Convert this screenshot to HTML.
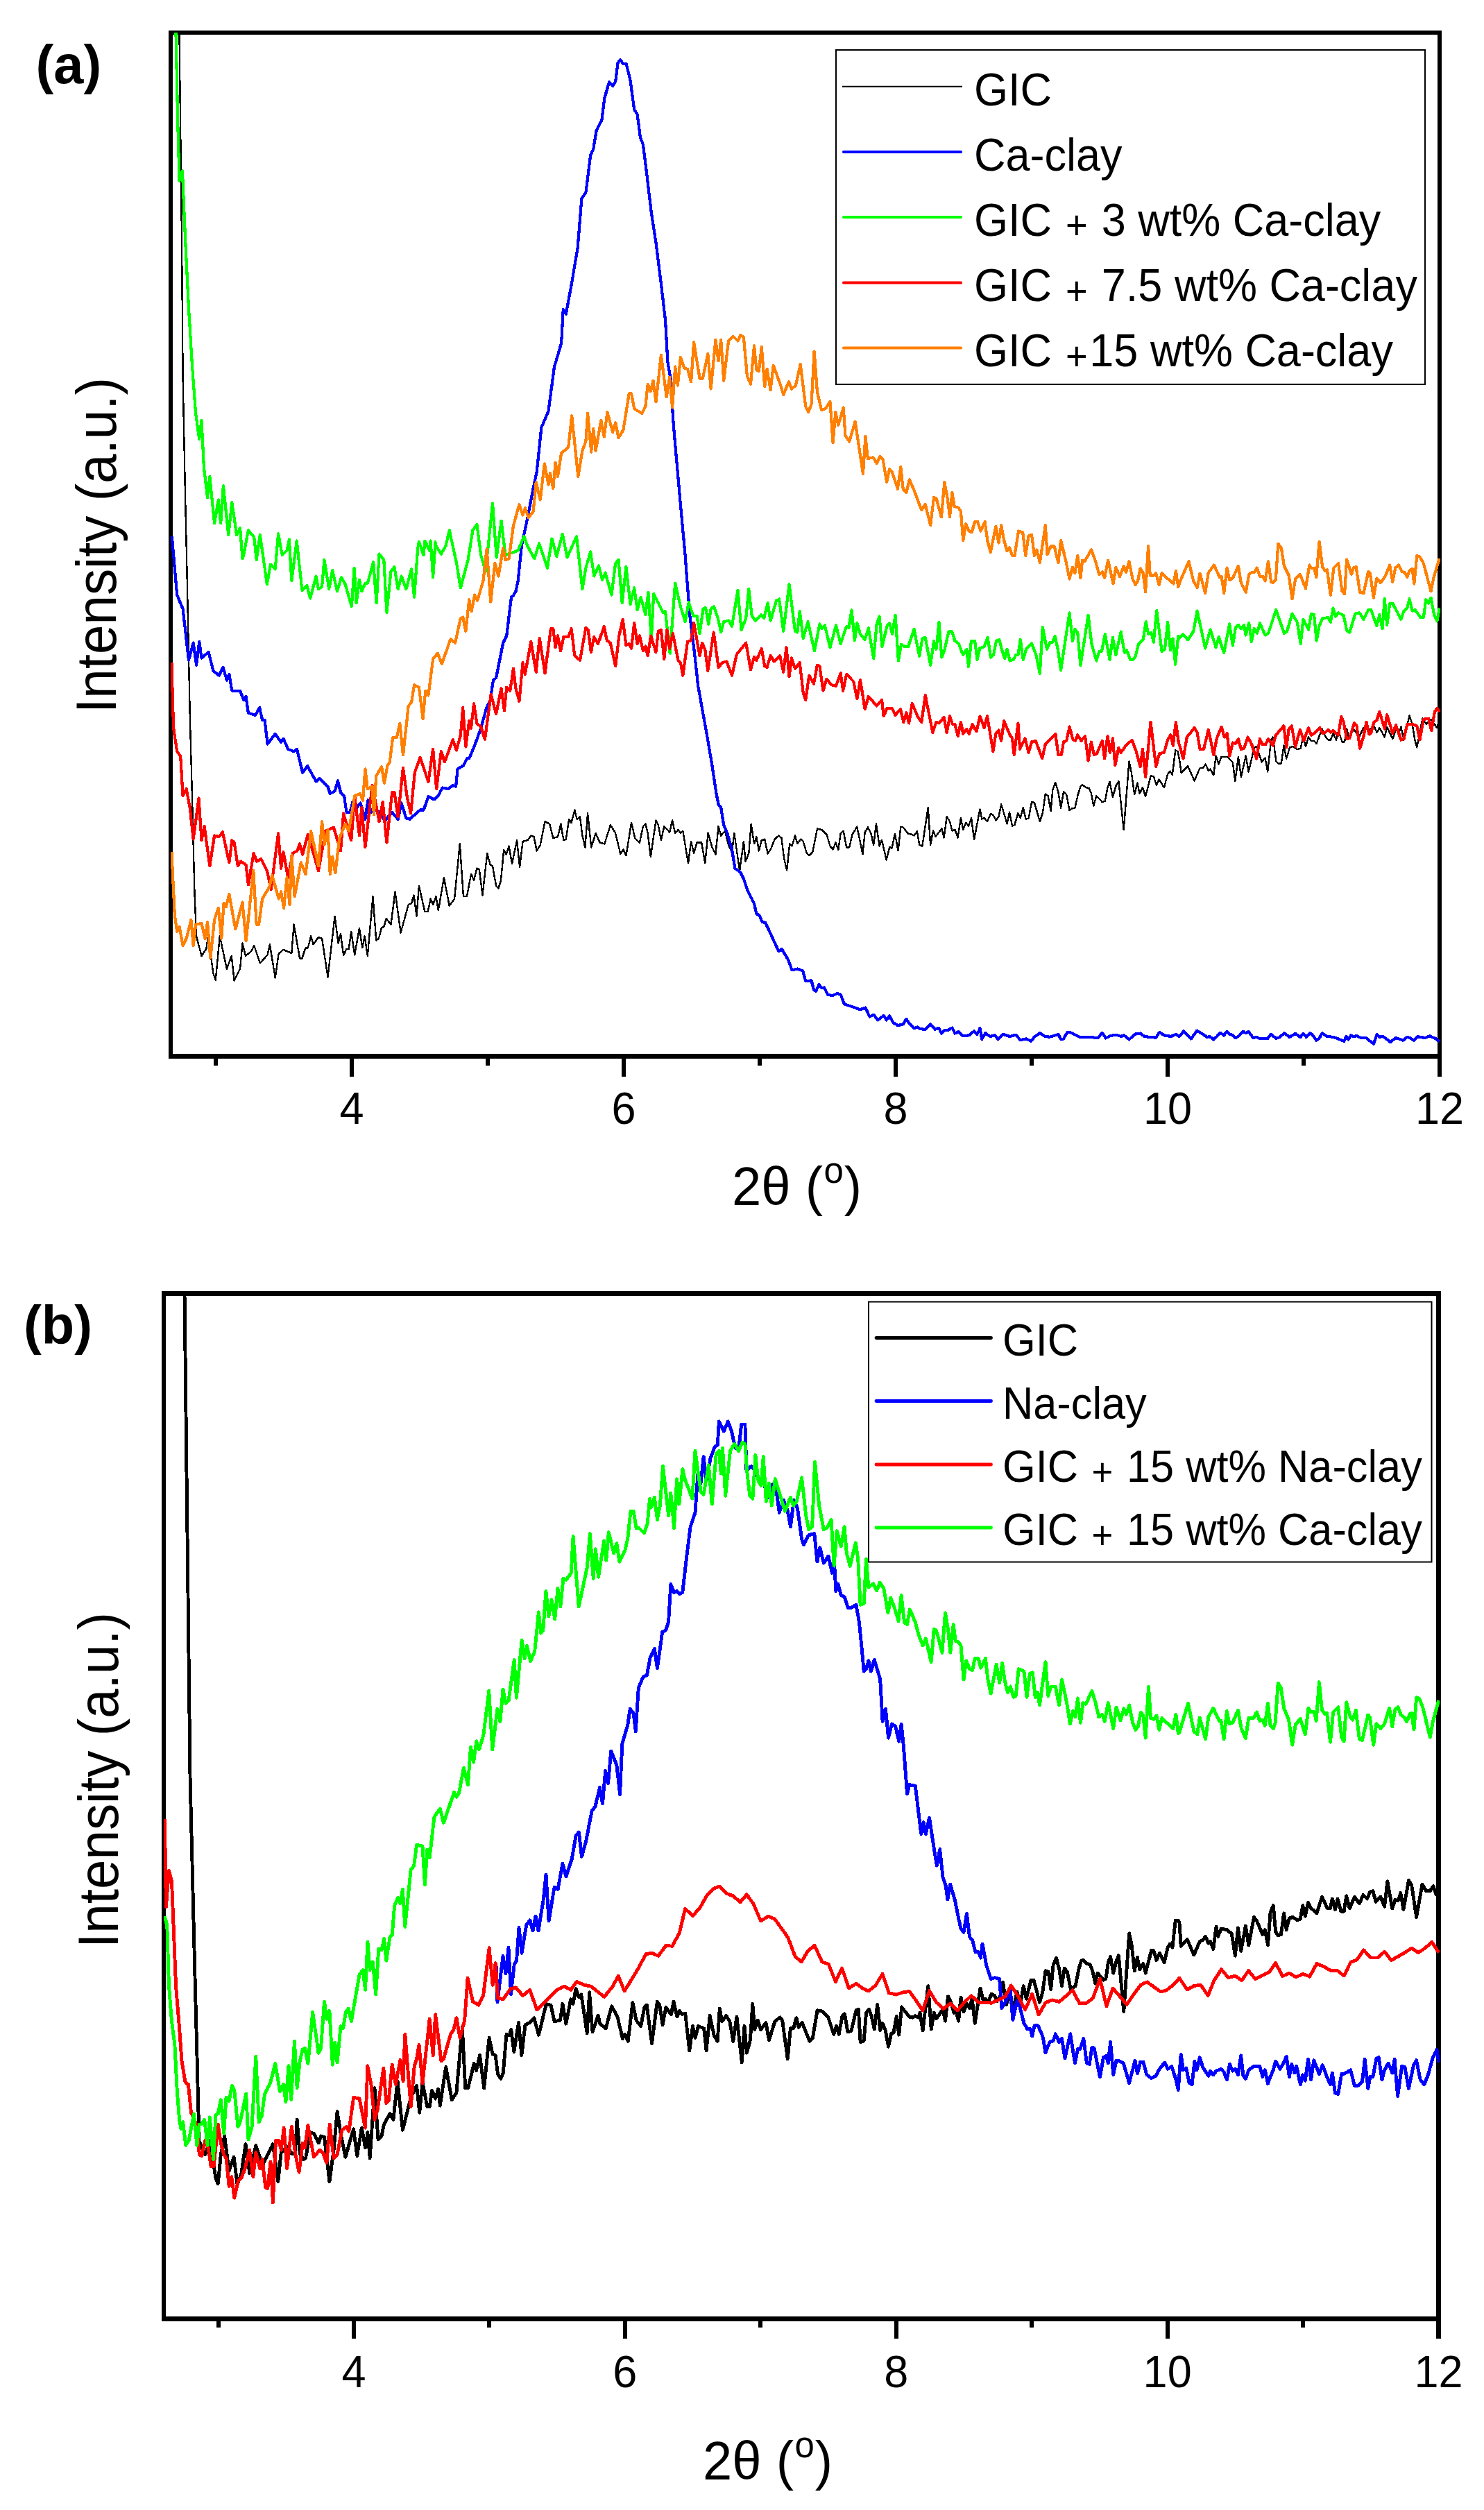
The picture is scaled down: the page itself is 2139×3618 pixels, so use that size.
<!DOCTYPE html>
<html lang="en"><head><meta charset="utf-8"><title>XRD patterns</title>
<style>html,body{margin:0;padding:0;background:#fff}svg{display:block}</style></head>
<body>
<svg width="2139" height="3618" viewBox="0 0 2139 3618" style="display:block">
<defs><clipPath id="ca"><rect x="246" y="47" width="1830" height="1476"/></clipPath><clipPath id="cb"><rect x="236" y="1864" width="1839" height="1479"/></clipPath></defs>
<rect x="0" y="0" width="2139" height="3618" fill="#fff"/>
<rect x="243" y="44" width="6" height="1482" fill="#000"/>
<rect x="243" y="44" width="1835" height="6" fill="#000"/>
<rect x="2072" y="44" width="6" height="1482" fill="#000"/>
<rect x="243" y="1519" width="1835" height="7" fill="#000"/>
<rect x="308" y="1519" width="6" height="17" fill="#000"/>
<rect x="504" y="1519" width="6" height="33" fill="#000"/>
<text transform="translate(507 1620) scale(1 1.03)" font-family="Liberation Sans, sans-serif" font-size="63" xml:space="preserve" text-anchor="middle">4</text>
<rect x="700" y="1519" width="6" height="17" fill="#000"/>
<rect x="896" y="1519" width="6" height="33" fill="#000"/>
<text transform="translate(899 1620) scale(1 1.03)" font-family="Liberation Sans, sans-serif" font-size="63" xml:space="preserve" text-anchor="middle">6</text>
<rect x="1092" y="1519" width="6" height="17" fill="#000"/>
<rect x="1288" y="1519" width="6" height="33" fill="#000"/>
<text transform="translate(1291 1620) scale(1 1.03)" font-family="Liberation Sans, sans-serif" font-size="63" xml:space="preserve" text-anchor="middle">8</text>
<rect x="1484" y="1519" width="6" height="17" fill="#000"/>
<rect x="1680" y="1519" width="6" height="33" fill="#000"/>
<text transform="translate(1683 1620) scale(1 1.03)" font-family="Liberation Sans, sans-serif" font-size="63" xml:space="preserve" text-anchor="middle">10</text>
<rect x="1876" y="1519" width="6" height="17" fill="#000"/>
<rect x="2072" y="1519" width="6" height="33" fill="#000"/>
<text transform="translate(2075 1620) scale(1 1.03)" font-family="Liberation Sans, sans-serif" font-size="63" xml:space="preserve" text-anchor="middle">12</text>
<rect x="233" y="1861" width="6" height="1485" fill="#000"/>
<rect x="233" y="1861" width="1844" height="7" fill="#000"/>
<rect x="2070" y="1861" width="7" height="1485" fill="#000"/>
<rect x="233" y="3339" width="1844" height="7" fill="#000"/>
<rect x="312" y="3339" width="6" height="16" fill="#000"/>
<rect x="507" y="3339" width="6" height="32" fill="#000"/>
<text transform="translate(510 3441) scale(1 1.03)" font-family="Liberation Sans, sans-serif" font-size="63" xml:space="preserve" text-anchor="middle">4</text>
<rect x="702" y="3339" width="6" height="16" fill="#000"/>
<rect x="898" y="3339" width="6" height="32" fill="#000"/>
<text transform="translate(900.88 3441) scale(1 1.03)" font-family="Liberation Sans, sans-serif" font-size="63" xml:space="preserve" text-anchor="middle">6</text>
<rect x="1093" y="3339" width="6" height="16" fill="#000"/>
<rect x="1289" y="3339" width="6" height="32" fill="#000"/>
<text transform="translate(1291.76 3441) scale(1 1.03)" font-family="Liberation Sans, sans-serif" font-size="63" xml:space="preserve" text-anchor="middle">8</text>
<rect x="1484" y="3339" width="6" height="16" fill="#000"/>
<rect x="1680" y="3339" width="6" height="32" fill="#000"/>
<text transform="translate(1682.64 3441) scale(1 1.03)" font-family="Liberation Sans, sans-serif" font-size="63" xml:space="preserve" text-anchor="middle">10</text>
<rect x="1875" y="3339" width="6" height="16" fill="#000"/>
<rect x="2070" y="3339" width="7" height="32" fill="#000"/>
<text transform="translate(2073.5 3441) scale(1 1.03)" font-family="Liberation Sans, sans-serif" font-size="63" xml:space="preserve" text-anchor="middle">12</text>
<polyline shape-rendering="crispEdges" clip-path="url(#ca)" points="258.5,47.0 262.0,343.0 263.6,545.0 267.0,714.0 269.0,800.0 273.7,1029.0 277.0,1150.0 280.4,1285.0 283.0,1349.0 290.5,1378.0 297.3,1367.9 300.0,1349.4 307.4,1403.3 310.8,1412.7 316.8,1349.4 326.9,1396.6 333.7,1378.0 337.7,1413.4 346.1,1396.6 349.5,1359.5 353.9,1378.0 362.0,1371.3 366.3,1362.9 374.8,1388.2 385.6,1376.4 388.9,1361.2 396.7,1409.4 401.7,1374.7 408.5,1368.9 420.3,1374.0 423.6,1332.6 432.0,1381.4 435.4,1381.4 440.5,1366.3 443.8,1366.3 448.2,1349.4 451.6,1361.2 459.0,1351.1 464.1,1352.8 472.5,1408.4 482.6,1320.8 487.6,1359.5 491.0,1346.0 495.1,1377.0 499.4,1367.9 502.8,1367.9 506.2,1342.7 511.2,1376.4 518.0,1337.6 522.3,1366.3 525.7,1349.4 529.8,1378.0 537.5,1292.1 542.2,1355.5 545.9,1352.8 550.0,1337.6 553.3,1335.9 556.7,1324.1 563.5,1332.6 569.5,1285.4 577.6,1344.4 588.7,1303.9 593.1,1302.2 596.5,1290.4 600.5,1320.8 603.9,1277.0 612.3,1314.0 616.7,1314.0 620.7,1295.5 624.1,1303.9 628.5,1292.1 631.8,1312.3 639.9,1265.2 647.7,1305.6 655.1,1295.5 662.8,1216.3 667.9,1292.1 673.0,1292.1 679.0,1260.1 683.1,1268.5 687.4,1251.7 690.8,1253.4 695.5,1290.4 702.3,1229.8 706.6,1246.6 710.0,1248.3 715.1,1277.0 718.4,1280.3 721.8,1270.2 726.2,1225.4 729.6,1231.5 733.6,1219.7 738.0,1245.0 745.1,1211.3 749.1,1250.0 753.5,1213.0 760.2,1211.3 765.3,1204.5 769.6,1206.2 773.7,1226.4 778.7,1218.0 785.5,1184.3 792.2,1187.7 797.3,1207.9 804.0,1206.2 808.4,1187.7 812.4,1211.3 815.8,1209.6 820.2,1180.9 823.6,1186.0 828.3,1167.5 831.6,1180.9 836.0,1177.6 839.4,1204.5 843.4,1221.4 847.1,1172.5 852.2,1221.4 858.6,1201.2 864.7,1214.6 871.4,1216.3 879.8,1189.4 886.6,1199.5 894.3,1230.8 898.4,1224.7 902.4,1233.2 910.1,1186.0 915.2,1207.9 921.9,1214.6 927.0,1191.1 930.4,1187.7 933.7,1201.2 937.8,1234.9 945.5,1182.6 948.9,1189.4 952.9,1211.3 957.3,1191.1 965.1,1199.5 969.1,1182.6 973.2,1201.2 977.5,1196.1 980.9,1201.2 984.3,1197.8 992.0,1244.3 996.1,1213.0 1000.1,1229.8 1004.5,1214.6 1011.2,1214.6 1016.3,1244.3 1020.7,1200.5 1026.4,1221.4 1031.4,1231.5 1035.5,1191.1 1039.2,1204.5 1044.9,1197.8 1050.0,1218.0 1055.0,1228.1 1058.4,1201.2 1066.1,1255.1 1071.9,1213.0 1074.6,1241.6 1079.3,1229.8 1082.7,1187.7 1087.0,1216.3 1090.4,1206.2 1093.8,1226.4 1097.8,1211.3 1102.2,1209.6 1106.6,1230.5 1110.6,1224.7 1116.7,1209.6 1122.4,1204.5 1126.5,1207.9 1130.2,1238.2 1134.2,1254.4 1138.2,1216.3 1141.6,1219.7 1146.0,1204.5 1149.4,1216.3 1154.4,1209.6 1157.8,1213.0 1162.8,1229.8 1166.2,1233.2 1171.3,1228.1 1178.0,1194.4 1184.7,1196.1 1191.5,1202.8 1196.5,1219.7 1200.6,1224.7 1204.3,1214.6 1208.3,1224.7 1211.7,1201.2 1215.7,1197.8 1220.1,1221.4 1224.2,1221.4 1228.5,1202.8 1235.3,1191.7 1243.4,1231.2 1246.7,1199.2 1251.1,1192.5 1255.2,1200.9 1259.2,1217.7 1262.9,1187.4 1267.6,1219.4 1271.0,1211.0 1277.7,1239.6 1282.1,1221.1 1285.5,1222.8 1289.9,1201.9 1294.6,1226.2 1298.3,1191.8 1301.7,1192.5 1309.1,1201.9 1313.5,1202.6 1317.5,1204.3 1321.9,1198.5 1325.2,1217.7 1329.3,1220.1 1337.7,1163.8 1341.1,1217.7 1345.1,1197.5 1348.5,1206.0 1357.3,1194.2 1360.6,1207.6 1364.7,1177.3 1369.0,1184.1 1372.4,1197.5 1376.5,1195.8 1380.5,1207.6 1384.9,1179.0 1388.2,1195.8 1392.3,1185.7 1396.0,1190.8 1400.0,1179.0 1404.1,1210.0 1412.5,1166.2 1415.2,1180.7 1418.6,1179.0 1423.0,1184.1 1428.0,1172.9 1432.0,1175.6 1435.4,1182.4 1439.5,1177.3 1443.2,1159.5 1451.6,1187.4 1455.0,1170.6 1459.0,1190.8 1462.4,1189.1 1467.4,1172.3 1470.8,1179.0 1474.8,1163.8 1478.5,1180.7 1482.6,1179.7 1487.0,1156.1 1491.0,1157.1 1498.8,1184.1 1502.8,1172.3 1506.8,1144.6 1510.6,1147.0 1514.6,1168.9 1517.3,1138.6 1521.3,1127.8 1525.4,1141.9 1529.1,1164.5 1533.1,1141.3 1537.2,1145.3 1541.5,1168.2 1545.9,1164.9 1549.3,1164.9 1553.3,1147.0 1557.4,1133.5 1560.1,1131.2 1565.1,1135.2 1569.5,1135.9 1572.9,1143.6 1576.3,1161.5 1580.3,1147.0 1588.7,1156.1 1592.8,1154.7 1596.5,1135.2 1599.5,1126.8 1603.9,1148.7 1608.3,1133.5 1612.3,1125.8 1619.7,1195.8 1627.5,1097.5 1630.8,1113.3 1635.2,1145.3 1639.3,1128.5 1642.6,1143.6 1647.0,1135.2 1651.1,1148.0 1658.8,1118.4 1662.8,1119.0 1666.9,1131.8 1670.6,1123.4 1678.0,1135.2 1683.1,1115.7 1686.4,1111.6 1689.8,1116.7 1694.2,1081.3 1697.5,1083.0 1700.0,1094.9 1702.7,1113.7 1712.1,1104.3 1721.6,1125.3 1729.6,1107.0 1733.7,1107.0 1737.7,1101.6 1741.8,1111.1 1744.5,1108.4 1749.3,1117.3 1752.6,1089.5 1756.6,1101.6 1760.6,1090.8 1768.7,1090.8 1776.8,1098.9 1780.3,1125.9 1784.9,1090.8 1788.9,1119.9 1795.7,1089.5 1799.7,1112.4 1807.8,1077.4 1811.1,1076.0 1818.6,1098.4 1823.5,1092.2 1827.2,1112.4 1832.1,1066.6 1834.8,1062.5 1839.4,1097.6 1842.9,1100.8 1846.9,1100.3 1850.4,1074.7 1854.2,1093.5 1859.0,1077.4 1863.1,1076.0 1869.8,1080.1 1874.7,1078.7 1878.4,1061.2 1881.9,1076.0 1886.0,1062.5 1890.0,1067.9 1894.1,1067.9 1897.6,1072.0 1905.4,1050.4 1910.2,1061.2 1914.3,1066.6 1917.8,1066.6 1921.6,1057.1 1925.9,1066.6 1929.1,1053.1 1934.5,1069.3 1938.0,1069.3 1941.2,1050.4 1943.9,1061.2 1952.0,1051.8 1958.8,1062.5 1965.5,1049.1 1973.6,1053.1 1980.3,1046.4 1984.4,1055.8 1988.4,1049.1 1995.7,1062.5 1999.2,1047.7 2007.3,1065.2 2012.7,1050.4 2015.9,1058.5 2019.4,1047.7 2023.5,1066.6 2031.5,1031.5 2035.6,1043.7 2039.1,1065.2 2042.3,1077.4 2050.4,1035.6 2055.8,1043.7 2062.5,1036.9 2071.4,1049.1 2074.7,1036.9" fill="none" stroke="#000" stroke-width="2.4" stroke-linejoin="round" stroke-linecap="butt"/>
<polyline shape-rendering="crispEdges" clip-path="url(#ca)" points="247.4,773.3 248.4,780.0 255.2,857.5 263.6,877.7 272.0,951.8 278.7,926.6 283.1,958.6 287.2,924.9 290.5,948.5 300.6,940.0 307.4,967.0 315.8,973.7 321.5,961.9 326.9,980.5 330.3,972.0 334.3,995.6 346.1,995.6 351.2,1009.1 354.6,1004.1 357.9,1027.6 368.0,1031.0 374.1,1019.9 378.1,1037.7 381.5,1037.7 385.6,1072.5 396.7,1058.0 405.1,1069.8 408.5,1064.7 415.2,1079.9 423.6,1083.2 428.0,1079.9 436.1,1113.6 443.2,1104.1 455.6,1126.4 460.7,1122.0 472.5,1133.8 475.8,1143.9 482.6,1140.5 487.0,1125.4 491.0,1142.2 496.1,1147.3 499.4,1170.8 504.5,1170.8 508.5,1155.7 514.6,1164.1 519.6,1157.4 526.4,1180.9 530.4,1153.3 534.8,1170.8 543.2,1167.5 555.0,1182.6 565.1,1170.8 573.6,1180.9 578.6,1157.4 585.4,1179.3 590.4,1180.9 605.6,1167.5 610.6,1167.5 617.4,1148.3 625.8,1152.3 632.5,1145.6 637.6,1135.5 646.0,1137.1 652.7,1132.1 657.1,1133.8 659.5,1108.5 667.9,1103.5 673.0,1093.3 676.3,1093.3 684.7,1073.1 693.2,1049.5 701.6,1019.2 706.6,1009.1 711.0,980.5 715.1,977.1 725.2,926.6 730.2,916.5 737.0,860.9 740.0,858.2 743.4,852.4 746.7,837.3 751.8,786.7 760.2,747.5 768.6,703.7 773.7,680.2 780.4,616.1 790.5,592.6 799.0,528.5 809.1,494.9 811.8,446.0 815.8,452.7 824.2,407.3 832.7,356.7 838.4,286.0 844.4,277.5 851.2,223.6 855.2,215.2 859.6,188.2 867.4,173.1 871.4,141.1 878.1,118.2 883.2,124.2 887.2,117.5 890.6,90.5 894.3,86.5 898.4,92.2 902.7,92.2 908.5,115.8 914.2,157.9 918.6,164.7 923.0,198.4 927.0,208.5 932.0,248.9 938.8,306.2 945.5,350.0 952.3,403.9 959.0,461.2 962.4,521.8 966.4,545.4 970.8,612.8 975.8,670.1 980.9,727.3 987.6,800.1 989.3,823.8 994.4,887.8 1001.1,941.7 1006.2,988.9 1012.9,1026.0 1019.6,1063.0 1026.4,1103.5 1032.5,1143.9 1035.8,1160.7 1039.2,1164.1 1043.2,1189.4 1048.3,1201.2 1055.0,1224.7 1059.4,1251.7 1066.8,1256.8 1071.9,1266.9 1076.9,1282.0 1087.0,1302.2 1090.4,1317.4 1094.4,1319.1 1098.8,1329.2 1103.2,1329.9 1112.3,1349.4 1122.4,1371.3 1126.8,1367.9 1135.9,1383.1 1141.6,1398.3 1149.4,1396.6 1157.1,1399.3 1161.2,1414.1 1169.6,1413.4 1173.0,1426.9 1176.3,1428.6 1180.4,1419.2 1184.7,1424.2 1188.1,1423.5 1193.2,1433.6 1199.9,1435.3 1206.6,1432.0 1211.7,1433.6 1216.8,1447.1 1228.5,1451.2 1240.0,1455.3 1247.4,1452.6 1253.5,1465.4 1259.2,1462.7 1265.3,1470.4 1273.7,1463.7 1277.7,1470.4 1282.1,1464.4 1287.2,1473.8 1293.9,1478.2 1301.7,1476.5 1306.4,1468.8 1310.8,1475.5 1317.5,1482.2 1322.5,1480.6 1326.9,1483.2 1333.7,1483.9 1341.1,1476.5 1347.8,1483.9 1352.9,1481.6 1357.3,1489.6 1361.3,1484.9 1366.3,1484.9 1372.4,1481.6 1376.5,1489.6 1381.5,1487.3 1388.2,1493.4 1396.7,1492.3 1404.1,1486.3 1408.5,1490.7 1412.5,1482.2 1415.2,1498.1 1420.3,1489.0 1427.0,1494.0 1433.7,1492.3 1438.8,1498.1 1445.5,1490.7 1455.6,1494.0 1464.1,1491.7 1470.8,1499.1 1479.2,1497.4 1486.0,1500.8 1491.0,1494.7 1498.8,1489.0 1506.2,1494.0 1512.9,1494.7 1518.0,1493.4 1525.4,1490.7 1529.1,1498.1 1533.1,1497.4 1538.2,1488.0 1543.2,1488.3 1556.7,1495.0 1573.6,1495.0 1582.0,1496.4 1588.7,1489.0 1593.8,1496.4 1600.5,1493.0 1608.9,1491.7 1615.7,1494.0 1620.1,1492.3 1627.5,1498.4 1635.9,1490.7 1643.6,1489.6 1649.4,1494.0 1657.8,1495.0 1666.2,1495.7 1671.3,1488.0 1678.0,1492.3 1688.1,1494.0 1694.9,1490.7 1699.9,1494.0 1706.0,1486.6 1716.8,1497.4 1725.2,1485.6 1733.6,1490.7 1740.0,1495.0 1743.3,1493.7 1749.4,1498.5 1754.3,1493.7 1759.1,1488.8 1764.0,1492.5 1768.3,1486.9 1772.5,1491.2 1776.1,1491.7 1780.9,1496.1 1785.8,1493.2 1791.9,1486.9 1795.5,1489.3 1799.6,1486.9 1802.8,1491.2 1806.4,1496.1 1811.3,1494.9 1814.9,1496.6 1823.4,1496.6 1827.0,1497.3 1831.9,1490.8 1839.2,1496.6 1842.8,1496.1 1851.3,1489.3 1858.6,1494.9 1867.1,1490.0 1874.3,1494.9 1878.5,1490.0 1882.8,1494.9 1887.7,1489.3 1891.3,1491.2 1897.4,1499.7 1901.0,1497.3 1905.9,1489.3 1912.0,1493.7 1916.8,1494.2 1924.1,1495.6 1931.4,1498.5 1937.4,1500.9 1940.6,1493.7 1943.5,1498.5 1947.1,1492.5 1950.8,1494.2 1955.6,1493.2 1961.7,1496.1 1969.0,1496.1 1975.0,1500.9 1979.9,1504.6 1984.7,1491.2 1988.4,1494.9 1993.2,1493.7 1998.1,1497.3 2004.1,1502.2 2011.4,1496.1 2016.3,1497.3 2022.3,1499.7 2028.4,1494.9 2033.3,1496.6 2038.1,1499.7 2043.0,1494.2 2047.8,1494.9 2053.9,1496.1 2061.1,1493.2 2066.0,1495.6 2069.6,1497.3 2074.5,1501.4" fill="none" stroke="#0000ff" stroke-width="4.2" stroke-linejoin="round" stroke-linecap="butt"/>
<polyline shape-rendering="crispEdges" clip-path="url(#ca)" points="253.5,47.4 256.2,174.8 258.5,260.7 262.9,246.2 267.0,343.2 272.0,444.3 277.1,528.5 282.1,595.9 287.2,633.0 290.5,606.0 293.9,673.4 299.0,717.2 302.3,686.9 309.1,754.3 314.8,720.6 318.2,754.3 321.9,700.4 329.3,771.1 334.3,724.0 341.1,771.1 346.1,761.0 349.5,805.3 351.2,800.1 357.9,764.4 366.3,774.5 369.7,807.0 374.8,771.1 384.9,842.3 389.9,813.7 396.7,820.4 401.1,769.4 406.8,800.2 413.5,793.5 416.9,777.9 420.3,837.3 427.7,779.6 435.4,850.8 442.2,844.0 447.2,862.5 455.6,830.5 459.0,849.1 464.1,845.7 467.4,807.0 474.2,849.1 479.2,822.1 486.0,852.4 492.0,832.2 497.7,842.3 506.8,874.3 510.6,818.7 513.6,869.3 518.0,835.6 521.3,852.4 526.4,840.6 529.8,840.6 538.2,810.3 542.6,869.3 546.6,798.5 553.3,807.0 557.4,882.8 563.5,823.8 568.5,817.1 573.6,849.1 578.6,830.5 585.4,849.1 593.1,820.4 597.1,860.9 602.2,790.1 603.9,781.2 610.6,800.2 612.3,779.6 619.0,793.5 620.7,779.6 624.1,832.2 627.5,781.2 627.5,785.1 635.9,798.5 642.6,786.7 647.7,764.4 657.8,810.3 663.9,847.4 674.6,807.0 681.4,764.4 687.4,756.0 693.2,800.2 699.9,823.8 710.0,725.6 715.7,803.6 722.5,750.9 728.5,800.2 746.7,793.5 755.2,773.3 760.2,786.7 770.3,805.3 777.1,783.4 788.9,818.7 795.6,776.6 802.3,801.9 810.8,769.9 817.5,803.6 831.0,773.3 839.4,849.1 844.4,818.7 851.2,795.2 856.2,830.5 863.0,815.4 868.0,835.6 872.4,825.5 881.5,857.5 887.2,812.0 891.6,807.0 896.7,869.3 902.4,817.1 908.5,871.0 914.2,847.4 918.6,879.4 923.6,860.9 930.4,886.1 934.4,854.1 938.8,921.5 942.2,855.8 955.6,882.8 959.0,881.1 965.7,941.7 973.2,840.6 980.9,874.3 987.6,896.2 992.7,868.3 999.4,887.8 1004.5,887.8 1008.5,913.1 1013.6,877.7 1017.0,876.0 1021.3,899.6 1024.7,877.7 1029.1,874.3 1034.8,891.2 1039.2,911.4 1043.2,896.2 1050.6,894.6 1055.0,903.0 1063.5,850.8 1068.5,908.0 1075.2,891.2 1079.3,849.1 1083.7,887.8 1088.7,894.6 1097.1,886.1 1101.2,891.2 1106.6,869.3 1110.6,894.6 1119.0,865.9 1123.1,863.6 1129.2,909.7 1137.6,842.3 1146.0,909.7 1149.4,911.4 1152.7,881.1 1157.8,919.8 1164.5,896.2 1174.0,938.4 1181.4,899.6 1184.7,906.3 1188.8,901.3 1196.5,933.3 1205.0,901.3 1211.7,928.2 1220.1,903.0 1223.5,904.7 1227.5,879.4 1231.9,923.2 1235.3,897.9 1240.0,913.8 1246.7,922.2 1251.8,905.4 1259.2,949.2 1263.6,900.3 1267.6,888.5 1271.3,932.3 1278.7,902.0 1282.1,898.6 1286.2,913.8 1290.5,886.8 1294.9,952.5 1299.0,928.9 1304.0,932.3 1309.1,932.3 1317.5,907.0 1325.2,945.8 1329.3,920.5 1333.7,918.8 1341.1,958.6 1346.1,923.9 1349.5,935.7 1353.5,896.9 1357.3,947.5 1361.3,937.4 1367.4,910.4 1372.1,910.4 1376.5,923.9 1381.5,927.3 1388.2,944.1 1393.3,935.7 1396.0,960.9 1400.0,923.9 1405.1,923.9 1408.5,950.8 1412.5,934.0 1418.6,932.3 1423.6,918.8 1428.0,947.5 1432.0,944.1 1436.1,923.9 1440.5,922.2 1443.8,935.7 1448.2,949.2 1451.6,935.7 1455.6,952.5 1460.7,950.8 1464.1,944.1 1467.4,944.1 1470.8,922.2 1474.8,950.8 1479.2,935.7 1487.0,927.3 1493.4,944.1 1498.8,971.1 1502.8,903.7 1508.9,935.7 1513.6,925.6 1517.0,925.6 1520.7,917.1 1524.7,935.7 1529.1,966.0 1541.5,883.5 1545.9,923.9 1549.3,907.0 1553.3,912.1 1557.4,959.3 1568.5,886.8 1573.6,928.9 1580.3,952.5 1584.3,939.0 1588.0,939.0 1592.8,913.8 1599.5,950.8 1603.9,918.8 1608.3,944.1 1615.7,910.4 1620.7,940.7 1624.1,937.4 1629.2,950.8 1633.2,950.8 1636.6,945.8 1640.9,928.9 1647.7,922.2 1651.7,896.3 1655.1,913.8 1659.5,912.1 1662.8,925.6 1667.2,880.1 1674.6,939.0 1679.0,935.7 1683.1,896.9 1687.1,937.4 1690.5,920.5 1694.2,957.6 1698.2,917.1 1700.0,919.7 1705.4,914.3 1712.1,922.4 1720.2,910.2 1725.6,880.6 1737.2,934.5 1744.5,907.5 1752.6,933.2 1756.6,918.3 1764.2,941.2 1772.2,899.5 1776.8,930.5 1780.9,904.9 1784.9,900.8 1788.9,906.2 1793.0,900.8 1795.7,915.6 1800.3,898.1 1803.8,925.1 1807.8,906.2 1811.9,912.9 1815.9,898.1 1823.5,915.6 1828.0,912.9 1839.4,879.2 1850.9,912.9 1855.0,910.2 1862.5,884.6 1869.8,896.8 1874.7,927.8 1878.4,892.7 1886.0,907.5 1890.0,884.6 1894.1,886.0 1897.6,923.7 1901.6,902.2 1906.2,891.4 1914.3,890.0 1917.8,896.8 1921.6,876.5 1925.1,888.7 1929.1,883.3 1936.7,887.3 1941.2,908.9 1945.3,911.6 1953.4,884.6 1959.3,883.3 1965.5,892.7 1972.2,879.2 1976.3,879.2 1984.4,902.2 1988.4,886.0 1992.5,906.2 1995.7,863.1 1999.2,900.8 2003.2,869.8 2007.3,869.8 2019.4,892.7 2023.5,880.6 2028.3,876.5 2031.5,863.1 2035.6,880.6 2039.6,879.2 2047.7,890.0 2051.8,890.0 2055.3,864.4 2059.0,869.8 2062.5,861.7 2067.1,886.0 2071.4,895.4 2074.7,876.5" fill="none" stroke="#00ff00" stroke-width="4.2" stroke-linejoin="round" stroke-linecap="butt"/>
<polyline shape-rendering="crispEdges" clip-path="url(#ca)" points="247.4,955.2 250.1,1049.5 255.2,1083.2 260.2,1090.0 263.6,1147.3 268.6,1137.1 273.7,1164.1 278.7,1209.6 286.5,1150.6 290.5,1211.3 294.6,1191.1 302.3,1248.3 309.1,1204.5 315.8,1206.2 320.9,1199.5 330.3,1243.3 334.3,1211.3 337.7,1214.6 342.8,1248.3 347.1,1241.6 354.6,1246.6 357.9,1275.3 365.7,1229.8 369.7,1241.6 376.5,1238.2 384.9,1255.1 390.6,1282.0 401.1,1201.2 405.1,1251.7 408.5,1228.1 415.2,1265.2 421.9,1229.8 428.7,1226.4 432.0,1216.3 436.1,1231.5 443.8,1202.8 459.0,1255.1 469.1,1197.8 480.9,1192.7 491.0,1226.4 495.1,1172.5 506.2,1211.3 511.2,1147.3 518.0,1204.5 521.3,1164.1 526.4,1221.4 536.5,1132.1 546.6,1184.3 551.7,1155.7 557.4,1214.6 565.1,1142.2 568.5,1142.2 573.6,1177.6 581.0,1106.8 587.0,1150.6 592.1,1172.5 597.8,1113.6 605.6,1091.7 617.4,1127.0 624.1,1079.9 629.2,1137.1 635.9,1083.2 640.9,1098.4 652.7,1066.4 657.8,1081.5 663.9,1059.6 667.2,1019.9 671.3,1076.5 676.3,1039.4 679.0,1049.5 683.1,1014.2 687.4,1042.8 693.2,1047.9 698.9,1065.7 707.7,1000.7 715.1,1029.3 722.5,992.3 726.9,1024.3 730.2,990.6 735.3,995.6 740.0,963.6 743.4,992.3 748.4,1010.8 753.5,955.2 756.8,972.0 765.3,924.9 772.7,968.7 777.7,919.8 785.5,970.4 793.9,906.3 797.3,906.3 800.6,933.3 804.0,916.5 808.1,938.4 812.4,918.1 819.2,918.1 823.6,906.3 828.3,945.1 836.0,951.8 844.4,904.7 847.8,908.0 851.9,940.0 856.2,918.1 862.0,928.2 870.7,903.0 874.8,923.2 879.8,926.6 887.2,960.3 892.3,916.5 897.7,892.9 902.4,929.9 906.8,928.2 910.1,935.0 914.2,897.9 918.6,928.2 921.9,916.5 927.0,938.4 930.4,931.6 933.7,945.1 938.1,916.5 945.5,940.0 948.9,909.7 952.9,908.0 957.3,950.1 961.4,908.0 965.1,935.0 969.8,913.1 977.5,951.8 980.9,955.2 984.3,973.7 991.0,924.9 996.1,923.2 1000.1,897.9 1008.5,945.1 1012.2,926.6 1016.3,936.7 1020.3,967.0 1028.7,911.4 1035.5,961.9 1041.5,955.2 1047.3,953.5 1055.0,973.7 1061.8,943.4 1075.2,926.6 1082.0,965.3 1087.0,946.8 1090.4,951.8 1097.8,935.0 1102.2,960.3 1105.6,961.9 1110.6,945.1 1115.7,953.5 1124.1,945.1 1129.2,968.7 1133.5,933.3 1137.6,975.4 1140.9,948.5 1146.0,963.6 1152.7,955.2 1157.8,999.0 1161.2,1009.1 1166.2,973.7 1173.0,985.5 1178.0,958.6 1181.4,960.3 1186.4,995.6 1191.5,978.8 1198.2,987.2 1205.0,988.9 1211.7,970.4 1215.1,995.6 1220.1,972.0 1230.2,982.2 1235.3,1007.4 1240.0,980.2 1246.7,1022.3 1251.8,1003.8 1263.6,1017.3 1271.0,1008.9 1273.7,1032.4 1278.7,1020.6 1285.5,1020.6 1290.5,1030.8 1298.0,1022.3 1302.3,1040.9 1306.4,1027.4 1310.1,1042.5 1314.8,1013.9 1322.5,1032.4 1328.3,1040.9 1333.7,1002.1 1344.4,1056.0 1349.5,1040.9 1353.5,1042.5 1360.6,1034.1 1364.7,1056.0 1369.0,1032.4 1373.1,1044.2 1376.5,1044.2 1380.8,1061.1 1384.9,1040.9 1388.2,1057.7 1393.3,1051.0 1396.7,1057.7 1401.7,1044.2 1407.5,1054.3 1412.5,1032.4 1418.6,1049.3 1423.0,1032.4 1431.4,1083.0 1435.4,1057.7 1439.5,1052.7 1443.2,1067.8 1447.2,1039.2 1455.6,1059.4 1459.0,1064.4 1461.7,1088.0 1467.4,1042.5 1470.1,1079.6 1477.5,1064.4 1482.6,1084.7 1487.0,1069.5 1492.7,1067.8 1502.1,1093.1 1506.8,1072.9 1516.3,1062.8 1521.3,1057.7 1525.4,1088.0 1529.8,1088.0 1533.1,1069.5 1537.2,1067.8 1541.5,1047.6 1546.6,1066.1 1550.0,1067.8 1553.3,1059.4 1558.4,1067.8 1564.1,1061.1 1568.5,1096.5 1572.9,1069.5 1576.9,1088.0 1581.0,1086.3 1588.7,1067.8 1592.1,1093.1 1596.5,1061.1 1599.8,1084.7 1603.9,1064.4 1607.3,1103.2 1612.3,1077.9 1615.7,1084.7 1624.1,1072.9 1631.8,1067.1 1637.6,1083.0 1643.6,1104.9 1647.0,1079.6 1651.1,1120.0 1658.5,1040.9 1666.2,1104.9 1671.3,1086.3 1678.0,1084.7 1683.1,1066.1 1687.4,1059.4 1690.8,1074.6 1694.9,1040.9 1698.9,1071.2 1700.0,1073.3 1705.4,1093.5 1710.8,1062.5 1721.6,1049.1 1725.6,1055.8 1729.6,1080.1 1735.0,1080.1 1741.8,1051.8 1749.3,1088.1 1753.9,1063.9 1760.6,1047.7 1764.7,1062.5 1768.7,1057.1 1772.2,1089.5 1776.8,1070.6 1780.9,1072.0 1784.9,1065.2 1788.9,1080.1 1793.0,1078.7 1798.4,1062.5 1803.8,1072.0 1811.1,1093.5 1815.9,1065.2 1819.9,1073.3 1824.0,1073.3 1828.0,1065.2 1834.8,1074.7 1838.8,1059.8 1846.9,1050.4 1850.4,1046.4 1854.2,1077.4 1857.7,1050.4 1861.7,1046.4 1867.1,1076.0 1873.9,1051.8 1879.2,1067.9 1886.0,1049.1 1890.0,1059.8 1894.1,1057.1 1902.2,1049.1 1906.2,1057.1 1910.2,1055.8 1914.3,1051.8 1917.8,1055.8 1921.6,1053.1 1929.1,1059.8 1933.2,1032.9 1936.7,1041.0 1941.2,1065.2 1945.3,1063.9 1952.0,1042.3 1955.5,1046.4 1960.1,1078.7 1965.5,1061.2 1969.5,1041.0 1973.6,1058.5 1976.3,1055.8 1980.3,1041.0 1984.4,1038.3 1988.4,1026.1 1995.7,1050.4 1999.2,1030.2 2007.3,1057.1 2012.1,1045.0 2019.4,1066.6 2023.5,1065.2 2028.3,1043.7 2035.6,1043.7 2042.3,1046.4 2046.4,1066.6 2051.8,1036.9 2059.0,1035.6 2063.3,1053.1 2067.9,1026.1 2071.4,1020.8 2074.7,1026.1" fill="none" stroke="#ff0000" stroke-width="4.2" stroke-linejoin="round" stroke-linecap="butt"/>
<polyline shape-rendering="crispEdges" clip-path="url(#ca)" points="247.4,1228.1 251.8,1319.1 255.2,1342.7 258.5,1335.9 263.6,1362.9 268.6,1352.8 275.4,1325.8 278.7,1362.9 282.1,1332.6 290.5,1330.9 295.6,1352.8 299.0,1329.2 303.3,1381.4 309.1,1325.8 314.8,1309.0 319.2,1352.8 322.5,1302.2 325.9,1307.3 330.3,1288.8 339.4,1339.3 349.5,1300.6 354.6,1356.1 365.3,1255.1 369.7,1332.6 373.1,1332.6 378.1,1295.5 388.2,1278.7 392.3,1261.8 401.7,1295.5 405.1,1285.4 409.1,1309.0 413.5,1265.2 417.6,1303.9 420.3,1233.2 424.6,1292.1 433.7,1243.3 440.5,1260.1 448.2,1197.8 459.0,1248.3 464.1,1184.3 467.4,1218.0 472.5,1196.1 475.8,1260.1 479.2,1234.9 483.3,1258.4 489.3,1207.9 497.7,1187.7 502.8,1197.8 511.2,1147.3 519.0,1143.9 523.0,1154.0 526.4,1108.5 529.8,1137.1 536.5,1133.8 538.9,1174.2 542.2,1118.6 550.0,1105.1 554.0,1128.7 558.4,1103.5 561.8,1098.4 566.1,1063.0 571.9,1063.0 576.3,1042.8 581.0,1088.3 588.7,1017.5 593.1,1012.5 597.1,987.2 603.9,990.6 609.6,1036.1 613.3,995.6 617.4,1002.4 624.1,950.1 630.8,941.7 636.9,956.9 649.4,921.5 656.1,926.6 663.9,891.2 667.2,889.5 671.3,909.7 676.3,864.2 679.7,881.1 684.1,857.5 688.1,865.9 696.5,837.3 701.6,791.8 707.3,867.6 713.4,812.0 718.4,830.5 725.2,790.1 728.5,807.0 733.6,805.3 740.0,757.7 748.4,727.3 753.5,742.5 756.8,732.4 761.9,745.9 768.6,737.4 772.7,695.3 778.7,720.6 784.8,668.4 790.5,698.7 792.9,681.8 797.3,703.7 800.6,666.7 804.0,686.9 809.1,653.2 819.2,644.8 824.2,599.3 833.3,686.9 839.4,649.8 844.4,636.4 847.1,595.9 852.2,651.5 855.2,617.8 858.6,649.8 866.3,606.0 870.7,629.6 875.4,594.2 883.2,622.9 887.2,609.4 891.6,631.3 898.4,619.5 906.8,567.3 910.1,567.3 914.2,589.2 925.3,595.9 930.4,585.8 933.7,553.8 937.8,563.9 941.5,548.8 945.5,579.1 952.9,511.7 960.7,572.3 965.1,543.7 969.1,587.5 973.2,528.5 976.9,555.5 980.9,515.1 986.0,530.2 991.0,531.9 996.1,550.4 1000.1,493.2 1008.5,545.4 1012.9,545.4 1020.3,510.0 1024.7,560.6 1031.4,489.8 1035.5,520.1 1039.2,489.8 1043.2,548.8 1050.0,491.5 1056.7,484.7 1063.5,491.5 1067.5,483.1 1071.9,486.4 1076.9,542.0 1082.0,553.8 1087.0,498.2 1090.4,533.6 1093.8,535.3 1097.8,499.9 1102.2,557.2 1105.6,531.9 1110.6,562.2 1114.7,526.9 1124.1,552.1 1129.2,569.0 1136.9,550.4 1140.9,560.6 1147.0,555.5 1153.7,525.2 1161.2,585.8 1165.2,594.2 1169.6,582.5 1173.6,506.6 1178.0,565.6 1184.1,590.9 1189.8,589.2 1196.5,579.1 1200.6,638.0 1204.3,594.2 1208.3,612.8 1215.7,587.5 1218.4,627.9 1224.2,636.4 1232.6,607.7 1244.0,683.0 1247.4,629.1 1250.8,661.1 1258.5,659.4 1263.6,667.8 1268.6,657.7 1272.7,662.8 1278.1,694.8 1282.1,676.2 1285.5,679.6 1293.9,704.9 1298.3,672.9 1301.7,704.9 1306.4,709.9 1310.8,691.4 1316.8,704.9 1328.3,735.2 1333.7,726.8 1341.1,757.1 1346.1,716.7 1349.5,718.4 1356.9,745.3 1361.3,694.8 1365.7,718.4 1369.0,745.3 1372.4,709.9 1375.8,730.1 1381.5,731.8 1384.9,736.9 1388.2,779.0 1392.3,755.4 1396.7,765.5 1400.7,767.2 1405.1,752.0 1409.1,752.0 1413.5,765.5 1419.6,752.0 1423.6,780.7 1427.7,795.8 1435.4,758.8 1439.5,782.4 1443.2,757.1 1447.2,779.0 1451.6,794.2 1455.0,789.1 1459.0,800.9 1462.4,800.9 1468.1,765.5 1474.2,767.2 1478.2,800.9 1482.6,772.3 1487.0,770.6 1491.0,800.9 1494.4,792.5 1498.8,811.0 1506.8,757.1 1509.5,799.2 1514.6,787.4 1519.6,787.4 1525.4,811.0 1529.1,779.0 1536.5,809.3 1541.5,834.6 1545.9,817.7 1549.3,826.2 1553.3,800.9 1557.4,832.9 1560.1,807.6 1563.5,809.3 1572.9,792.5 1578.6,807.6 1584.3,827.9 1588.7,824.5 1592.1,832.9 1597.1,807.6 1604.6,841.3 1608.3,817.7 1614.0,831.2 1619.7,816.1 1623.1,824.5 1627.5,809.3 1632.5,834.6 1636.6,843.0 1639.9,838.0 1643.6,819.4 1647.7,826.2 1651.1,853.1 1655.1,787.4 1657.8,829.5 1662.8,829.5 1666.2,826.2 1670.6,843.0 1674.6,826.2 1679.7,831.2 1691.5,841.3 1694.9,822.8 1698.2,846.4 1700.0,840.2 1713.5,809.2 1720.2,837.5 1725.6,846.9 1729.6,826.7 1737.2,855.0 1741.8,825.3 1749.9,814.6 1758.0,832.1 1760.6,830.7 1764.2,855.0 1768.7,818.6 1772.2,836.1 1776.8,833.4 1784.9,815.9 1788.9,840.2 1795.7,853.6 1800.3,828.0 1803.8,825.3 1807.8,825.3 1811.9,818.6 1815.9,830.7 1819.9,830.7 1823.5,837.5 1828.0,809.2 1832.1,838.8 1834.8,840.2 1838.8,836.1 1842.3,783.6 1846.9,790.3 1850.9,815.9 1857.7,829.4 1862.5,863.1 1867.1,834.8 1873.9,828.0 1881.9,848.2 1887.3,814.6 1890.0,818.6 1894.1,818.6 1897.3,832.1 1901.6,780.9 1906.2,817.3 1910.2,822.6 1912.9,821.3 1917.8,857.7 1922.4,818.6 1929.1,811.9 1934.5,852.3 1938.0,856.3 1941.2,806.5 1948.0,828.0 1950.7,818.6 1954.7,817.3 1960.1,853.6 1965.5,855.0 1972.2,824.0 1974.9,826.7 1979.8,861.7 1984.4,833.4 1989.8,840.2 1996.5,830.7 2003.2,814.6 2007.3,838.8 2011.3,818.6 2015.9,814.6 2020.8,824.0 2024.8,825.3 2028.3,832.1 2031.5,822.6 2035.6,819.9 2038.3,841.5 2042.3,801.1 2046.4,802.4 2051.8,811.9 2062.5,852.3 2066.6,832.1 2074.7,805.1" fill="none" stroke="#ff8000" stroke-width="4.2" stroke-linejoin="round" stroke-linecap="butt"/>
<polyline shape-rendering="crispEdges" clip-path="url(#cb)" points="266.0,1864.0 274.0,2560.0 280.5,2830.0 284.0,2964.0 287.0,3086.0 290.6,3095.7 295.7,3105.8 302.4,3085.6 310.9,3139.5 314.2,3147.9 318.3,3105.8 323.7,3078.9 330.1,3129.4 337.1,3109.2 342.2,3149.6 347.9,3132.8 354.0,3090.7 359.7,3132.8 368.8,3092.3 378.2,3121.0 385.0,3107.5 393.4,3090.7 400.8,3144.6 405.2,3102.5 413.6,3094.0 420.4,3104.1 425.4,3104.1 428.1,3055.3 432.2,3104.1 437.2,3112.6 440.6,3110.9 447.3,3073.8 452.4,3075.5 459.1,3089.0 462.5,3078.9 467.5,3080.6 474.9,3144.6 481.0,3099.1 486.1,3043.5 491.1,3075.5 497.9,3109.2 509.6,3068.8 514.7,3107.5 521.4,3067.1 526.5,3095.7 529.9,3073.8 533.2,3110.9 540.0,3009.8 545.0,3083.9 550.1,3078.9 553.5,3062.0 561.9,3046.9 566.9,3055.3 573.0,2999.7 580.4,3070.4 592.2,3023.3 600.6,3006.4 604.7,3045.2 609.0,3001.4 615.8,3036.8 619.2,3036.8 622.5,3013.2 627.6,3025.0 631.6,3011.5 634.3,3035.1 642.7,2979.5 651.2,3026.6 657.9,3016.5 666.3,2922.2 670.7,3009.8 674.7,3009.8 683.2,2974.4 686.5,2984.5 691.6,2962.6 697.7,3009.8 705.1,2937.4 710.1,2960.9 714.2,2962.6 717.5,2989.6 721.9,2996.3 725.3,2987.9 730.0,2932.3 734.0,2934.0 736.7,2925.6 740.8,2957.6 747.5,2915.5 751.9,2962.6 757.0,2918.8 763.7,2915.5 769.8,2908.7 776.5,2933.3 787.3,2888.5 794.0,2890.2 799.1,2913.8 807.5,2912.1 810.9,2888.5 815.9,2917.1 822.7,2881.8 826.0,2888.5 830.1,2866.6 834.4,2878.4 837.8,2875.0 846.2,2930.6 849.6,2871.7 854.0,2928.9 862.1,2905.4 864.8,2917.1 873.2,2923.9 881.6,2891.9 890.0,2907.0 897.5,2939.0 900.8,2932.3 905.2,2942.4 911.9,2886.8 917.0,2912.1 923.7,2920.5 928.8,2893.6 932.2,2890.2 939.6,2945.8 947.3,2885.1 950.7,2890.2 955.1,2918.8 959.8,2893.6 967.5,2903.7 970.9,2885.1 976.0,2907.0 979.3,2898.6 983.4,2903.7 987.7,2902.0 993.8,2955.9 998.5,2920.5 1002.2,2937.4 1006.3,2920.5 1014.7,2923.9 1018.1,2955.9 1023.1,2905.4 1029.2,2934.0 1034.2,2942.4 1037.3,2895.2 1040.6,2913.8 1046.7,2905.4 1051.8,2913.8 1056.8,2942.4 1061.9,2907.0 1069.3,2972.7 1073.0,2920.5 1076.4,2959.3 1081.4,2940.7 1084.8,2888.5 1087.8,2925.6 1092.2,2912.1 1096.6,2925.6 1104.0,2915.5 1108.4,2940.7 1116.8,2913.8 1124.2,2908.0 1127.6,2912.1 1135.3,2967.7 1139.4,2923.9 1143.7,2923.9 1147.8,2908.7 1151.2,2922.2 1156.2,2915.5 1167.0,2942.4 1171.4,2937.4 1178.1,2897.9 1184.2,2898.6 1193.3,2907.0 1201.7,2932.3 1205.7,2920.5 1209.1,2932.3 1214.2,2905.4 1217.5,2903.0 1221.9,2928.9 1227.0,2927.3 1234.0,2898.0 1237.4,2896.3 1240.1,2943.5 1245.2,2941.8 1248.5,2901.3 1252.6,2896.3 1256.3,2906.4 1260.3,2924.9 1264.7,2889.5 1268.7,2926.6 1272.1,2916.5 1276.2,2926.6 1280.5,2950.2 1284.6,2931.7 1288.0,2930.0 1292.3,2906.4 1295.7,2933.3 1299.7,2892.9 1303.5,2898.0 1310.9,2907.1 1315.9,2908.1 1319.3,2905.7 1323.7,2908.1 1326.0,2901.3 1330.1,2926.6 1337.8,2862.6 1342.2,2924.9 1346.2,2901.3 1349.6,2909.8 1359.0,2896.3 1362.4,2913.1 1366.5,2877.7 1370.8,2886.2 1374.9,2901.3 1378.2,2899.6 1381.6,2913.1 1385.0,2879.4 1389.0,2899.6 1393.4,2887.9 1397.5,2894.6 1401.2,2881.1 1405.2,2916.5 1413.0,2866.0 1417.0,2882.8 1420.4,2881.1 1424.4,2886.2 1428.8,2874.4 1433.2,2876.1 1437.2,2884.5 1441.6,2877.7 1445.6,2857.5 1450.7,2889.5 1455.1,2871.0 1460.8,2896.3 1465.8,2871.0 1470.9,2887.9 1475.3,2862.6 1479.3,2881.1 1486.1,2854.2 1490.1,2854.2 1498.5,2886.2 1502.9,2871.0 1507.0,2840.7 1511.3,2842.4 1514.7,2867.6 1518.1,2832.3 1522.5,2822.2 1526.5,2837.3 1530.5,2862.6 1534.2,2837.3 1538.3,2842.4 1543.3,2867.6 1550.1,2862.6 1555.1,2837.3 1558.5,2826.2 1561.9,2825.5 1566.9,2830.6 1571.0,2831.6 1574.7,2840.7 1578.7,2859.2 1582.1,2844.1 1590.5,2854.2 1593.9,2852.5 1597.3,2828.9 1600.6,2820.5 1604.7,2844.1 1609.0,2827.2 1612.4,2818.8 1619.8,2899.6 1627.6,2786.8 1630.9,2801.9 1635.3,2840.7 1639.4,2821.5 1642.7,2839.0 1647.8,2830.6 1651.2,2844.1 1659.6,2811.4 1663.0,2812.0 1667.0,2825.5 1671.4,2815.4 1678.1,2828.9 1683.2,2807.0 1686.5,2801.9 1689.9,2807.0 1694.3,2768.2 1698.3,2768.2 1700.0,2771.8 1702.2,2805.3 1711.2,2795.5 1720.9,2817.9 1729.3,2798.3 1733.5,2796.9 1737.6,2791.4 1741.8,2801.1 1744.6,2798.3 1748.8,2809.5 1753.0,2777.4 1755.8,2791.4 1760.0,2780.2 1768.3,2781.6 1775.3,2787.2 1780.3,2819.2 1784.5,2778.8 1788.7,2812.3 1795.4,2776.0 1799.8,2803.9 1807.4,2763.5 1811.6,2769.0 1819.9,2788.6 1823.3,2781.6 1827.5,2803.9 1831.1,2756.5 1835.3,2746.7 1838.6,2784.4 1842.2,2790.0 1846.4,2788.6 1850.6,2757.9 1854.2,2781.6 1858.4,2764.9 1863.1,2763.5 1870.1,2767.7 1874.3,2766.3 1877.7,2746.7 1881.3,2762.1 1885.5,2742.6 1889.6,2750.9 1893.8,2753.7 1898.0,2757.9 1905.5,2734.2 1913.3,2750.9 1917.5,2750.9 1920.3,2737.0 1924.5,2752.3 1928.1,2737.0 1932.9,2755.1 1937.1,2755.1 1940.7,2732.8 1945.4,2750.9 1952.4,2734.2 1959.4,2743.9 1964.9,2731.4 1970.5,2737.0 1974.7,2727.2 1978.9,2725.8 1983.1,2741.2 1990.0,2734.2 1995.6,2748.1 1999.8,2711.9 2006.8,2750.9 2011.0,2738.4 2015.1,2739.8 2018.8,2728.6 2022.9,2752.3 2030.5,2710.5 2034.7,2717.5 2041.6,2763.5 2050.0,2716.1 2055.6,2725.8 2061.2,2725.8 2065.9,2718.8 2070.9,2732.8" fill="none" stroke="#000" stroke-width="4.9" stroke-linejoin="round" stroke-linecap="butt"/>
<polyline shape-rendering="crispEdges" clip-path="url(#cb)" points="714.9,2829.6 717.0,2885.6 725.0,2819.5 729.0,2845.0 733.0,2807.4 736.5,2874.8 741.2,2831.6 744.6,2826.0 748.0,2778.4 752.0,2815.5 758.7,2775.0 763.9,2768.0 768.0,2783.0 772.0,2762.0 776.0,2783.0 783.0,2740.0 787.0,2702.0 791.0,2769.0 799.1,2720.0 804.1,2723.4 810.9,2686.3 815.9,2704.9 824.3,2679.6 830.1,2645.9 834.4,2640.9 838.5,2676.2 844.6,2654.3 853.0,2610.5 858.0,2603.8 864.5,2576.6 868.5,2600.0 872.6,2552.3 876.6,2570.5 880.7,2524.0 888.8,2544.2 893.6,2586.7 896.8,2513.9 904.9,2485.6 908.2,2463.4 913.0,2469.4 916.3,2495.7 920.3,2433.1 927.2,2416.9 932.4,2414.9 937.3,2388.6 943.3,2376.4 947.4,2404.7 954.7,2352.2 959.5,2350.2 963.6,2338.0 966.8,2283.5 971.6,2295.6 975.7,2293.6 979.7,2297.6 983.8,2295.6 989.8,2243.0 995.1,2200.6 1002.0,2180.4 1006.0,2123.7 1010.1,2137.9 1014.1,2099.5 1018.1,2133.9 1024.2,2101.5 1030.3,2085.3 1034.3,2083.3 1036.3,2048.9 1043.2,2063.1 1049.3,2048.9 1054.5,2063.1 1059.8,2087.4 1064.6,2089.4 1068.7,2053.0 1073.9,2053.0 1076.0,2119.7 1082.8,2113.6 1088.9,2119.7 1095.0,2137.9 1101.0,2137.9 1107.1,2158.1 1113.2,2139.9 1119.2,2150.0 1123.3,2180.4 1129.3,2162.2 1135.4,2178.3 1139.4,2200.6 1144.3,2162.2 1149.5,2174.3 1155.6,2218.8 1158.4,2226.8 1165.7,2212.7 1173.8,2210.7 1177.9,2251.1 1181.9,2230.9 1187.2,2253.1 1194.0,2243.0 1199.3,2267.3 1202.1,2245.0 1204.9,2293.6 1208.2,2283.5 1212.2,2299.6 1217.1,2301.6 1222.3,2317.8 1226.4,2317.8 1234.0,2313.1 1238.4,2338.4 1241.8,2372.0 1245.2,2409.1 1248.5,2405.7 1251.9,2393.9 1255.3,2409.1 1260.3,2392.3 1263.7,2404.1 1268.7,2420.9 1272.1,2481.5 1276.5,2463.0 1280.5,2505.1 1285.6,2484.9 1290.6,2488.3 1295.7,2510.2 1299.1,2484.9 1302.4,2516.9 1307.5,2586.0 1310.9,2572.5 1319.3,2574.2 1327.7,2643.6 1331.1,2626.7 1334.4,2643.6 1339.5,2620.0 1344.6,2653.7 1350.3,2689.1 1354.7,2665.5 1359.0,2705.9 1363.1,2717.7 1365.8,2737.9 1369.8,2716.0 1376.6,2739.6 1381.6,2764.9 1385.0,2780.0 1389.0,2785.1 1393.4,2758.1 1397.5,2791.8 1401.8,2796.9 1405.9,2813.7 1410.3,2813.7 1413.6,2822.2 1416.0,2801.9 1422.0,2833.9 1428.1,2852.5 1433.8,2850.8 1440.6,2852.5 1443.9,2894.6 1449.0,2886.2 1456.4,2869.3 1459.8,2911.4 1465.8,2884.5 1469.2,2889.5 1476.0,2916.5 1481.0,2924.9 1485.4,2924.9 1487.7,2935.0 1491.1,2919.9 1496.2,2919.9 1502.9,2935.0 1507.0,2958.6 1513.0,2943.5 1518.1,2941.8 1521.4,2931.7 1526.5,2943.5 1530.5,2938.4 1534.9,2967.0 1542.7,2931.7 1549.4,2973.8 1553.5,2953.6 1556.8,2953.6 1561.9,2938.4 1566.3,2973.8 1570.3,2975.5 1573.7,2951.9 1577.0,2951.9 1585.5,2994.0 1590.5,2965.4 1594.6,2963.7 1597.3,2973.8 1600.6,2943.5 1604.7,2990.6 1609.0,2970.4 1612.4,2970.4 1619.2,2973.8 1627.6,3002.4 1636.0,2970.4 1639.4,2988.9 1643.7,2972.1 1647.8,2972.1 1652.8,2990.6 1659.6,2995.7 1666.3,2992.3 1671.4,2982.2 1678.8,2973.1 1683.2,2982.2 1688.9,2978.8 1695.0,2997.4 1698.3,3012.5 1700.0,2988.0 1702.2,2961.5 1705.6,2983.8 1709.8,2981.0 1713.9,3001.9 1718.1,3004.7 1721.8,2971.2 1725.1,2983.8 1729.3,2965.7 1733.5,2979.6 1741.8,2992.2 1744.6,2985.2 1748.8,2990.8 1753.0,2985.2 1760.0,2982.4 1764.1,2986.6 1768.3,2997.7 1772.5,2975.4 1776.7,2985.2 1780.9,2982.4 1784.5,2990.8 1788.7,2962.9 1792.0,2992.2 1795.4,2996.3 1799.8,2983.8 1807.4,2978.2 1815.7,2978.2 1819.9,2993.5 1823.3,2983.8 1827.5,3003.3 1831.1,2993.5 1835.3,2983.8 1838.6,2971.2 1845.0,2982.4 1850.6,2972.6 1854.2,2964.3 1858.4,2993.5 1861.8,2975.4 1865.9,2988.0 1868.7,2978.2 1874.3,3004.7 1877.7,2990.8 1881.3,2999.1 1885.5,2968.4 1889.6,2997.7 1893.8,2969.8 1901.4,2989.4 1906.4,2976.8 1912.5,2993.5 1917.5,3004.7 1920.3,2988.0 1924.5,3017.3 1928.7,3018.6 1933.7,2989.4 1937.1,2989.4 1946.8,2983.8 1952.4,3006.1 1958.0,3006.1 1963.5,3000.5 1967.2,2968.4 1971.9,3010.3 1974.7,2993.5 1978.9,2993.5 1983.9,2967.1 1987.3,2965.7 1992.0,2997.7 1995.6,2983.8 2001.2,2974.0 2006.8,2988.0 2010.1,2968.4 2014.6,3021.4 2020.7,2978.2 2024.9,2979.6 2030.5,3010.3 2037.5,2976.8 2041.6,2969.8 2047.2,2997.7 2052.8,3004.7 2058.4,2990.8 2065.3,2965.7 2070.9,2954.5 2073.7,2972.6" fill="none" stroke="#0000ff" stroke-width="4.9" stroke-linejoin="round" stroke-linecap="butt"/>
<polyline shape-rendering="crispEdges" clip-path="url(#cb)" points="237.4,2622.3 239.4,2748.7 243.5,2696.5 247.5,2711.6 250.9,2795.8 253.6,2863.2 258.6,2923.9 262.0,2971.1 267.1,3001.4 271.4,3004.7 275.5,3045.2 280.5,3055.3 283.9,3065.4 287.3,3105.8 290.6,3107.5 295.7,3085.6 300.1,3095.7 304.1,3122.7 308.2,3122.7 314.2,3062.0 318.3,3089.0 322.7,3105.8 326.0,3110.9 330.1,3151.3 333.8,3137.8 337.8,3168.2 343.5,3142.9 347.9,3139.5 353.0,3126.0 359.7,3099.1 364.8,3137.8 368.8,3102.5 374.9,3126.0 378.2,3112.6 382.6,3153.0 385.7,3154.7 390.0,3115.9 393.4,3174.9 397.5,3085.6 401.8,3085.6 405.2,3099.1 409.2,3067.1 413.6,3126.0 420.4,3065.4 425.4,3102.5 431.1,3131.1 436.2,3089.0 439.6,3095.7 443.9,3063.7 452.4,3109.2 460.8,3099.1 465.8,3104.1 470.9,3117.6 475.3,3062.0 481.0,3110.9 486.1,3105.8 492.8,3070.4 499.5,3065.4 502.9,3072.1 509.6,3023.3 518.1,3025.0 526.5,3067.1 529.9,2977.8 534.9,3004.7 540.0,3055.3 544.0,3041.8 552.8,2981.2 556.8,3031.7 560.2,3028.3 565.2,2976.1 570.3,3004.7 577.0,2969.4 581.1,2999.7 583.8,2932.3 592.2,3036.8 597.3,2977.8 600.6,2967.7 604.0,2947.5 609.0,3003.1 619.2,2910.4 624.2,2962.6 627.6,2903.7 636.0,2971.1 639.4,2967.7 649.5,2932.3 653.9,2925.6 657.9,2908.7 663.0,2937.4 669.7,2912.1 674.1,2851.4 681.5,2885.1 689.9,2890.2 696.6,2876.7 705.1,2807.6 710.1,2861.5 714.2,2829.5 717.5,2880.1 725.3,2881.8 730.0,2875.0 736.1,2866.6 743.5,2864.9 753.6,2876.7 763.7,2868.3 773.8,2896.9 789.0,2881.8 802.4,2868.3 813.6,2863.2 822.7,2868.3 831.1,2856.5 842.9,2861.5 852.0,2863.2 870.8,2878.4 883.3,2863.2 891.1,2848.1 900.1,2870.0 918.7,2839.6 931.1,2816.7 939.6,2815.1 949.0,2819.4 959.8,2804.3 969.2,2805.3 979.3,2785.7 987.7,2751.4 998.5,2761.5 1009.0,2749.7 1018.1,2733.5 1028.2,2722.4 1037.3,2719.0 1047.4,2729.5 1056.8,2732.8 1066.9,2741.9 1076.4,2730.8 1086.1,2744.6 1096.6,2768.9 1107.4,2762.2 1116.8,2766.2 1125.9,2779.0 1136.0,2793.2 1146.1,2820.1 1155.2,2827.9 1164.6,2812.0 1174.1,2804.3 1184.9,2827.9 1194.3,2831.2 1204.4,2856.5 1213.5,2837.0 1223.6,2865.9 1234.0,2859.2 1243.5,2866.0 1251.9,2870.0 1262.0,2861.9 1272.1,2845.1 1281.2,2872.7 1291.7,2875.1 1300.8,2872.0 1310.9,2870.3 1321.0,2884.5 1330.1,2898.0 1339.5,2869.3 1349.6,2886.2 1359.7,2895.6 1369.8,2887.9 1379.9,2898.0 1390.0,2886.2 1400.1,2876.7 1410.3,2886.2 1418.7,2886.2 1428.8,2887.2 1438.9,2882.8 1449.0,2877.7 1457.4,2861.9 1467.5,2877.7 1477.6,2897.0 1487.7,2874.4 1497.2,2904.0 1507.0,2886.8 1516.4,2882.8 1526.5,2885.5 1536.6,2877.1 1546.0,2868.7 1556.1,2887.9 1565.2,2887.9 1575.4,2880.1 1585.5,2852.5 1594.9,2891.9 1604.0,2866.0 1614.1,2877.7 1624.2,2889.5 1634.3,2874.4 1644.4,2860.9 1653.5,2856.9 1663.6,2864.3 1673.1,2871.0 1681.5,2868.7 1691.6,2860.9 1700.0,2851.3 1711.2,2868.0 1720.9,2862.5 1730.7,2861.1 1741.3,2876.4 1750.2,2854.1 1760.5,2838.8 1770.6,2850.8 1780.3,2848.0 1789.8,2854.7 1799.6,2840.7 1809.6,2852.7 1819.9,2847.1 1829.7,2842.4 1838.6,2829.6 1848.6,2848.5 1858.4,2844.3 1868.2,2849.9 1877.7,2845.2 1887.7,2849.1 1898.0,2830.4 1907.8,2834.6 1917.5,2840.2 1927.3,2840.2 1937.1,2848.0 1946.8,2828.4 1956.0,2824.8 1965.5,2810.9 1976.1,2822.0 1985.9,2822.0 1995.6,2813.1 2005.4,2825.7 2015.1,2820.1 2024.9,2814.5 2034.7,2808.1 2044.4,2814.5 2054.2,2808.1 2063.9,2799.2 2073.7,2814.5" fill="none" stroke="#ff0000" stroke-width="4.9" stroke-linejoin="round" stroke-linecap="butt"/>
<polyline shape-rendering="crispEdges" clip-path="url(#cb)" points="237.4,2762.2 240.8,2775.6 243.5,2863.2 247.5,2913.8 251.9,2947.5 255.3,3014.9 258.6,3055.3 261.0,3068.8 263.7,3058.7 267.7,3092.3 272.1,3085.6 279.5,3046.9 283.9,3092.3 287.3,3062.0 290.6,3062.0 294.7,3055.3 299.1,3092.3 302.4,3051.9 307.5,3112.6 310.9,3048.5 314.2,3046.9 318.3,3026.6 322.7,3075.5 326.0,3023.3 330.1,3028.3 334.4,3006.4 337.8,3013.2 342.9,3065.4 346.2,3058.7 354.7,3018.2 358.0,3083.9 363.1,3065.4 368.8,2964.3 373.2,3058.7 377.2,3050.2 381.6,3018.2 390.0,3001.4 396.8,2974.4 403.5,3014.9 408.6,3004.7 411.9,3030.0 416.0,2977.8 419.7,3026.6 424.4,2942.4 428.1,3009.8 432.2,2971.1 436.2,2954.2 439.6,2952.5 443.9,2974.4 450.7,2900.3 459.1,2959.3 462.5,2952.5 467.5,2885.1 470.9,2910.4 474.9,2898.6 479.3,2976.1 482.7,2944.1 486.1,2972.7 491.1,2920.5 494.5,2923.9 498.5,2900.3 502.2,2895.2 506.3,2913.8 518.1,2846.4 523.1,2839.6 526.5,2868.3 529.9,2799.2 533.2,2839.6 537.3,2827.9 541.7,2875.0 545.7,2809.3 550.1,2811.0 553.5,2794.2 556.8,2826.2 561.9,2792.5 565.2,2789.1 568.6,2747.0 573.7,2735.2 577.0,2743.6 580.4,2723.4 583.8,2777.3 592.2,2694.8 596.6,2689.7 600.6,2659.4 609.0,2661.1 612.4,2716.7 615.8,2666.1 619.2,2677.9 625.9,2619.0 634.3,2607.2 639.4,2627.4 654.5,2583.6 657.9,2590.3 661.5,2584.7 668.4,2548.3 674.5,2572.5 678.5,2518.0 682.6,2540.2 686.6,2509.9 690.6,2522.0 696.7,2501.8 704.8,2437.1 709.7,2522.0 716.9,2463.4 721.0,2481.6 725.0,2435.1 729.1,2455.3 733.1,2451.2 741.2,2392.6 744.4,2447.2 752.1,2364.3 756.1,2390.6 759.4,2372.4 764.6,2394.6 770.7,2380.5 776.4,2323.9 779.6,2354.2 782.8,2350.2 786.9,2293.6 790.9,2330.0 795.0,2305.7 799.8,2334.0 803.9,2289.5 807.9,2315.8 811.9,2275.4 816.0,2277.4 823.3,2267.3 826.1,2214.7 834.2,2315.8 846.3,2259.2 850.4,2210.7 855.2,2275.4 858.4,2232.9 862.5,2273.3 870.6,2220.8 873.8,2249.1 877.4,2208.7 884.7,2239.0 888.8,2224.8 892.8,2251.1 900.9,2234.9 904.9,2216.7 909.0,2178.3 913.0,2178.3 917.1,2202.6 921.1,2202.6 928.4,2209.9 933.2,2196.5 936.5,2160.1 939.3,2172.3 943.3,2158.1 947.4,2190.5 951.4,2170.2 955.5,2113.6 963.6,2184.4 966.8,2152.1 971.6,2202.6 975.7,2131.8 978.9,2168.2 983.8,2117.7 987.8,2133.9 997.9,2160.1 1002.0,2091.4 1010.1,2150.0 1014.1,2154.1 1021.4,2111.6 1026.2,2168.2 1032.3,2095.4 1036.3,2091.4 1039.2,2123.7 1041.6,2087.4 1045.6,2156.1 1052.5,2091.4 1058.6,2081.3 1064.6,2091.4 1069.9,2079.3 1073.9,2081.3 1076.8,2121.7 1080.8,2156.1 1084.9,2160.1 1088.9,2097.5 1092.9,2133.9 1097.0,2141.9 1100.2,2099.5 1104.3,2164.2 1108.3,2137.9 1112.4,2170.2 1117.2,2131.8 1125.3,2158.1 1131.4,2178.3 1139.4,2158.1 1143.5,2170.2 1148.3,2164.2 1155.6,2129.8 1161.7,2184.4 1165.7,2204.6 1170.6,2200.6 1174.6,2107.6 1180.7,2170.2 1187.2,2204.6 1192.0,2202.6 1198.1,2190.5 1202.1,2257.2 1206.2,2206.6 1212.2,2228.9 1217.1,2200.6 1220.3,2239.0 1225.2,2257.2 1233.4,2223.8 1236.7,2247.4 1240.1,2313.1 1245.2,2311.4 1248.5,2247.4 1251.9,2287.8 1258.6,2282.8 1263.7,2292.9 1268.1,2281.1 1273.8,2289.5 1279.9,2324.9 1283.9,2303.0 1290.6,2321.5 1295.0,2336.7 1299.1,2299.6 1303.5,2338.4 1307.5,2341.7 1311.5,2319.8 1319.3,2338.4 1324.3,2356.9 1330.1,2372.0 1334.4,2361.9 1342.2,2395.6 1346.2,2348.5 1349.6,2350.1 1358.0,2382.2 1362.4,2324.9 1366.5,2348.5 1369.8,2382.2 1374.2,2341.7 1377.2,2365.3 1381.6,2367.0 1385.0,2372.0 1389.0,2420.9 1392.7,2393.9 1397.5,2405.7 1401.8,2407.4 1405.2,2390.6 1410.3,2390.6 1413.6,2404.1 1420.4,2390.6 1423.7,2419.2 1428.1,2441.1 1436.2,2399.0 1440.6,2426.0 1444.6,2397.3 1448.3,2422.6 1452.4,2439.4 1456.4,2431.0 1460.8,2446.2 1464.2,2444.5 1468.2,2405.7 1476.0,2409.1 1480.0,2446.2 1484.4,2412.5 1488.4,2410.8 1492.1,2446.2 1495.5,2439.4 1498.5,2458.0 1507.0,2395.6 1510.7,2444.5 1514.7,2431.0 1521.4,2431.0 1526.5,2458.0 1530.5,2420.9 1538.3,2458.0 1542.3,2484.9 1546.7,2466.4 1550.1,2474.8 1553.5,2447.9 1557.5,2483.2 1560.9,2454.6 1565.2,2456.3 1573.7,2437.7 1578.7,2452.9 1583.8,2474.8 1588.8,2471.4 1592.2,2481.5 1597.3,2454.6 1604.7,2491.7 1609.0,2461.3 1615.1,2479.9 1619.8,2463.0 1623.2,2471.4 1627.6,2458.0 1632.6,2483.2 1636.7,2493.3 1640.4,2488.3 1644.4,2468.1 1647.8,2473.1 1651.2,2505.1 1655.5,2431.0 1658.6,2476.5 1663.0,2478.2 1667.0,2473.1 1670.7,2493.3 1674.7,2476.5 1679.8,2481.5 1690.9,2491.7 1695.0,2471.4 1698.3,2498.4 1700.0,2497.1 1712.5,2455.3 1720.9,2495.7 1725.7,2499.9 1729.3,2476.2 1737.6,2506.9 1741.8,2474.8 1748.8,2462.3 1757.2,2480.4 1760.0,2480.4 1764.1,2506.9 1768.3,2466.5 1772.0,2484.6 1776.7,2483.2 1784.5,2465.1 1789.2,2491.6 1795.4,2505.5 1799.8,2476.2 1807.4,2476.2 1811.6,2467.8 1815.7,2480.4 1819.9,2479.0 1823.3,2487.4 1827.5,2455.3 1831.1,2487.4 1835.3,2491.6 1838.0,2484.6 1842.2,2426.0 1846.4,2433.0 1850.6,2462.3 1857.6,2479.0 1862.6,2515.3 1867.3,2486.0 1874.3,2477.6 1881.3,2499.9 1886.0,2462.3 1889.6,2467.8 1894.4,2467.8 1897.2,2480.4 1901.4,2424.6 1905.5,2465.1 1909.7,2470.6 1912.5,2469.2 1917.5,2511.1 1921.7,2467.8 1928.7,2460.9 1933.7,2504.1 1937.1,2509.7 1940.7,2453.9 1946.8,2476.2 1949.6,2479.0 1954.3,2465.1 1959.4,2506.9 1963.5,2508.3 1971.9,2472.0 1974.7,2476.2 1979.7,2515.3 1983.9,2484.6 1990.0,2491.6 1995.6,2484.6 2002.6,2462.3 2006.8,2488.8 2011.0,2463.7 2015.1,2460.9 2019.3,2472.0 2023.5,2474.8 2027.7,2481.8 2031.9,2470.6 2034.7,2469.2 2038.0,2492.9 2041.6,2446.9 2045.8,2448.3 2050.8,2460.9 2061.2,2504.1 2065.3,2481.8 2073.7,2451.1" fill="none" stroke="#00ff00" stroke-width="4.9" stroke-linejoin="round" stroke-linecap="butt"/>
<rect x="1205" y="72" width="849" height="482" fill="#fff" stroke="#000" stroke-width="2"/>
<line x1="1214" y1="124.8" x2="1387" y2="124.8" stroke="#000" stroke-width="2" stroke-linecap="butt"/>
<text transform="translate(1404 151.6) scale(1 1.05)" font-family="Liberation Sans, sans-serif" font-size="63" xml:space="preserve" >GIC</text>
<line x1="1216" y1="219" x2="1385" y2="219" stroke="#0000ff" stroke-width="4.2" stroke-linecap="round"/>
<text transform="translate(1404 245.8) scale(1 1.05)" font-family="Liberation Sans, sans-serif" font-size="63" xml:space="preserve" >Ca-clay</text>
<line x1="1216" y1="313" x2="1385" y2="313" stroke="#00ff00" stroke-width="4.2" stroke-linecap="round"/>
<text transform="translate(1404 339.8) scale(1 1.05)" font-family="Liberation Sans, sans-serif" font-size="63" xml:space="preserve" >GIC <tspan font-size="54.18" dy="4" dx="2.6">+</tspan><tspan dy="-4" dx="2.6"> 3 wt% Ca-clay</tspan></text>
<line x1="1216" y1="407.5" x2="1385" y2="407.5" stroke="#ff0000" stroke-width="4.2" stroke-linecap="round"/>
<text transform="translate(1404 434.3) scale(1 1.05)" font-family="Liberation Sans, sans-serif" font-size="63" xml:space="preserve" >GIC <tspan font-size="54.18" dy="4" dx="2.6">+</tspan><tspan dy="-4" dx="2.6"> 7.5 wt% Ca-clay</tspan></text>
<line x1="1216" y1="501.5" x2="1385" y2="501.5" stroke="#ff8000" stroke-width="4.2" stroke-linecap="round"/>
<text transform="translate(1404 528.3) scale(1 1.05)" font-family="Liberation Sans, sans-serif" font-size="63" xml:space="preserve" >GIC <tspan font-size="54.18" dy="4" dx="2.6">+</tspan><tspan dy="-4" dx="2.6">15 wt% Ca-clay</tspan></text>
<rect x="1252" y="1876.5" width="811.5" height="375" fill="#fff" stroke="#000" stroke-width="2"/>
<line x1="1263" y1="1928.5" x2="1428.5" y2="1928.5" stroke="#000" stroke-width="4.9" stroke-linecap="round"/>
<text transform="translate(1445 1953.8) scale(1 1.062)" font-family="Liberation Sans, sans-serif" font-size="61.3" xml:space="preserve" >GIC</text>
<line x1="1263" y1="2019.5" x2="1428.5" y2="2019.5" stroke="#0000ff" stroke-width="4.9" stroke-linecap="round"/>
<text transform="translate(1445 2044.8) scale(1 1.062)" font-family="Liberation Sans, sans-serif" font-size="61.3" xml:space="preserve" >Na-clay</text>
<line x1="1263" y1="2111" x2="1428.5" y2="2111" stroke="#ff0000" stroke-width="4.9" stroke-linecap="round"/>
<text transform="translate(1445 2136.3) scale(1 1.062)" font-family="Liberation Sans, sans-serif" font-size="61.3" xml:space="preserve" >GIC <tspan font-size="52.718" dy="4" dx="2.6">+</tspan><tspan dy="-4" dx="2.6"> 15 wt% Na-clay</tspan></text>
<line x1="1263" y1="2202" x2="1428.5" y2="2202" stroke="#00ff00" stroke-width="4.9" stroke-linecap="round"/>
<text transform="translate(1445 2227.3) scale(1 1.062)" font-family="Liberation Sans, sans-serif" font-size="61.3" xml:space="preserve" >GIC <tspan font-size="52.718" dy="4" dx="2.6">+</tspan><tspan dy="-4" dx="2.6"> 15 wt% Ca-clay</tspan></text>
<text transform="translate(51.5 119.6) scale(1 1)" font-family="Liberation Sans, sans-serif" font-size="77.5" xml:space="preserve" font-weight="bold">(a)</text>
<text transform="translate(34 1937) scale(1 1)" font-family="Liberation Sans, sans-serif" font-size="77.5" xml:space="preserve" font-weight="bold">(b)</text>
<text transform="translate(1055 1737) scale(1 1.035)" font-family="Liberation Sans, sans-serif" font-size="76" xml:space="preserve" >2θ (<tspan font-size="51" dy="-31" dx="1.5">o</tspan><tspan dy="31" dx="1">)</tspan></text>
<text transform="translate(1013 3574) scale(1 1.035)" font-family="Liberation Sans, sans-serif" font-size="76" xml:space="preserve" >2θ (<tspan font-size="51" dy="-31" dx="1.5">o</tspan><tspan dy="31" dx="1">)</tspan></text>
<text transform="translate(167 1028) rotate(-90) scale(1 1.065)" font-family="Liberation Sans, sans-serif" font-size="76.4" xml:space="preserve" >Intensity (a.u.)</text>
<text transform="translate(170 2808) rotate(-90) scale(1 1.065)" font-family="Liberation Sans, sans-serif" font-size="76.4" xml:space="preserve" >Intensity (a.u.)</text>
</svg>
</body></html>
